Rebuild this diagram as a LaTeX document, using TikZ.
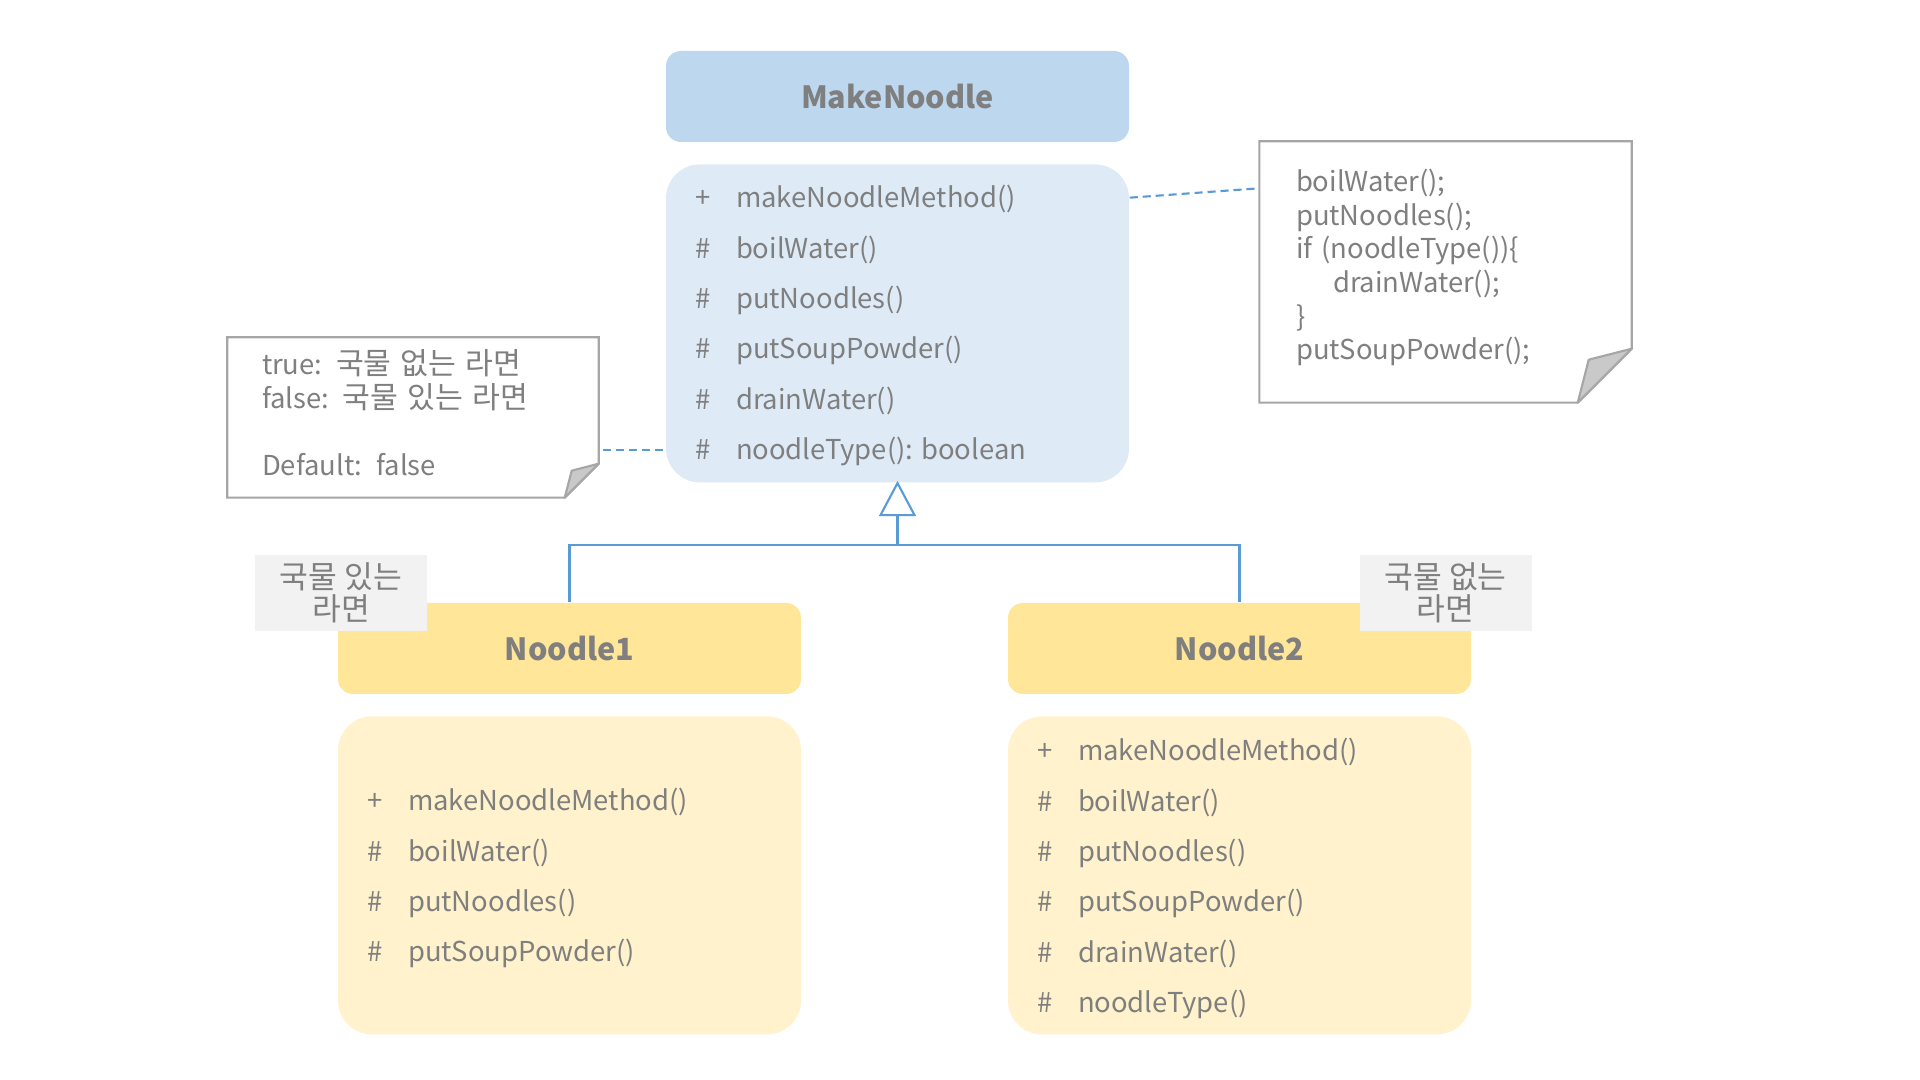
\documentclass[tikz,border=0pt]{standalone}
\usepackage{fontspec}
\setmainfont{Noto Sans CJK KR}
\usepackage{tikz}
\usetikzlibrary{calc,positioning}
\definecolor{mkheadfill}{HTML}{BDD7EE}
\definecolor{mkbodyfill}{HTML}{DEEBF7}
\definecolor{nheadfill}{HTML}{FFE699}
\definecolor{nbodyfill}{HTML}{FFF2CC}
\definecolor{textgray}{HTML}{7F7F7F}
\definecolor{notegray}{HTML}{A6A6A6}
\definecolor{foldgray}{HTML}{C9C9C9}
\definecolor{taggray}{HTML}{F2F2F2}
\definecolor{linkblue}{HTML}{5B9BD5}
\newcommand\hg[1]{{\fontsize{8.6}{9.6}\selectfont #1}}
\tikzset{
  txt/.style={text=textgray, inner sep=0pt, font=\fontsize{7.8}{9.6}\selectfont},
  header/.style={rounded corners=0.15cm, minimum width=4.63cm, minimum height=0.91cm,
    text=textgray, font=\fontsize{8.7}{11}\selectfont\bfseries},
  members/.style={rounded corners=0.34cm, minimum width=4.63cm, minimum height=3.18cm},
  sym/.style={txt, anchor=base},
  member/.style={txt, anchor=base west},
  notebox/.style={draw=notegray, line width=0.6pt},
  foldbox/.style={draw=notegray, fill=foldgray, line width=0.6pt, line join=round},
  notetext/.style={txt, anchor=base west, text width=3.3cm, align=left},
  tag/.style={fill=taggray, text=textgray, minimum width=1.72cm, minimum height=0.76cm,
    inner sep=0pt, align=center, font=\fontsize{8.9}{9.1}\selectfont},
  inherit/.style={draw=linkblue, line width=0.6pt},
  dashlink/.style={draw=linkblue, line width=0.6pt, dash pattern=on 2.3pt off 1.4pt}
}
\newcommand\foldnote[3]{%
  \draw[notebox] (#1.north west) -- (#1.north east) -- ($(#1.south east)+(0,#2)$)
    -- ($(#1.south east)+(-#2,0)$) -- (#1.south west) -- cycle;
  \filldraw[foldbox] ($(#1.south east)+(-#2,0)$) -- ($(#1.south east)+(-#3,#3)$)
    -- ($(#1.south east)+(0,#2)$) -- cycle;}

\begin{document}
\begin{tikzpicture}
    \fill[white] (0,0) rectangle (19.2,10.8);

    \node[header, fill=mkheadfill] (mkhead) at (8.975,9.835) {MakeNoodle};
    \node[members, fill=mkbodyfill, below=0.21cm of mkhead] (mkbody) {};
    \foreach \sg/\nm [count=\i] in {+/makeNoodleMethod(), \#/boilWater(), \#/putNoodles(),
        \#/putSoupPowder(), \#/drainWater(), \#/noodleType(): boolean}{
      \node[sym] (mksym\i) at ($(mkbody.north west)+(0.38,{-0.44-0.504*(\i-1)})$) {\sg};
      \node[member] (mkm\i) at ($(mkbody.north west)+(0.70,{-0.44-0.504*(\i-1)})$) {\nm};
    }

    \node[header, fill=nheadfill] (n1head) at (5.695,4.315) {Noodle1};
    \node[members, fill=nbodyfill, below=0.21cm of n1head] (n1body) {};
    \foreach \sg/\nm [count=\i] in {+/makeNoodleMethod(), \#/boilWater(), \#/putNoodles(),
        \#/putSoupPowder()}{
      \node[sym] (n1sym\i) at ($(n1body.north west)+(0.38,{-0.95-0.504*(\i-1)})$) {\sg};
      \node[member] (n1m\i) at ($(n1body.north west)+(0.70,{-0.95-0.504*(\i-1)})$) {\nm};
    }

    \node[header, fill=nheadfill] (n2head) at (12.395,4.315) {Noodle2};
    \node[members, fill=nbodyfill, below=0.21cm of n2head] (n2body) {};
    \foreach \sg/\nm [count=\i] in {+/makeNoodleMethod(), \#/boilWater(), \#/putNoodles(),
        \#/putSoupPowder(), \#/drainWater(), \#/noodleType()}{
      \node[sym] (n2sym\i) at ($(n2body.north west)+(0.38,{-0.45-0.504*(\i-1)})$) {\sg};
      \node[member] (n2m\i) at ($(n2body.north west)+(0.70,{-0.45-0.504*(\i-1)})$) {\nm};
    }

    \draw[inherit, fill=white] (mkbody.south) -- ++(0.17,-0.32) -- ++(-0.34,0) -- cycle;
    \coordinate (tribase) at ($(mkbody.south)+(0,-0.32)$);
    \coordinate (junc) at ($(mkbody.south)+(0,-0.62)$);
    \draw[inherit] (tribase) -- (junc) -| (n1head.north);
    \draw[inherit] (junc) -| (n2head.north);

    \node[minimum width=3.71cm, minimum height=2.60cm, inner sep=0pt] (rnote) at (14.455,8.08) {};
    \foldnote{rnote}{0.54}{0.43}
    \node[notetext] (rcode) at ($(rnote.north west)+(0.36,-0.50)$)
      {boilWater();\\ putNoodles();\\ if (noodleType())\{\\ \hspace*{0.37cm}drainWater();\\ \}\\ putSoupPowder();};

    \node[minimum width=3.70cm, minimum height=1.59cm, inner sep=0pt] (lnote) at (4.13,6.625) {};
    \foldnote{lnote}{0.34}{0.27}
    \node[notetext] (lcode) at ($(lnote.north west)+(0.34,-0.37)$)
      {true: \hg{국물 없는 라면}\\ false: \hg{국물 있는 라면}\\[9.6pt] Default: false};

    \draw[dashlink] ($(mkbody.north east)+(0,-0.34)$) -- ($(rnote.north west)+(0,-0.47)$);
    \draw[dashlink, shorten <=0.04cm] (lnote.east |- mksym6) -- (mkbody.west |- mksym6);

    \node[tag] (wettag) at (3.41,4.87) {국물 있는\\라면};
    \node[tag] (drytag) at (14.455,4.87) {국물 없는\\라면};
\end{tikzpicture}
\end{document}
